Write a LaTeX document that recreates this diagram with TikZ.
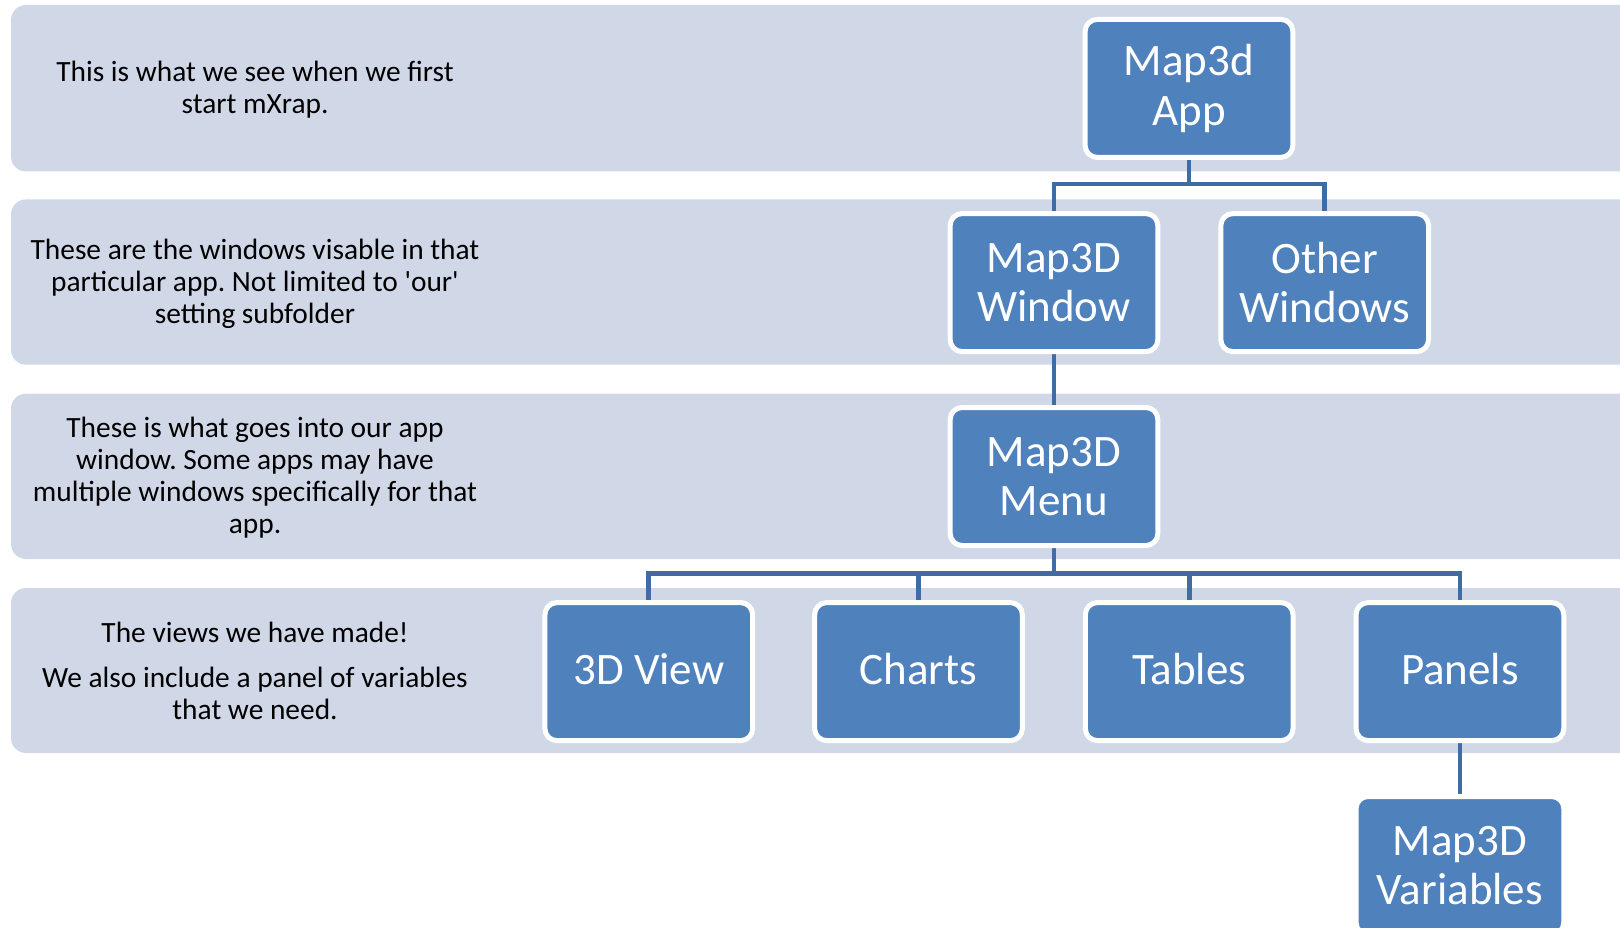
\documentclass[tikz,border=0pt]{standalone}
\usepackage{fontspec}
\setmainfont{Carlito}
\usetikzlibrary{calc}
\definecolor{bandcol}{RGB}{208,216,232}
\definecolor{boxcol}{RGB}{79,129,189}
\definecolor{conncol}{RGB}{64,108,164}
\pgfdeclarelayer{bandlayer}
\pgfdeclarelayer{linelayer}
\pgfsetlayers{bandlayer,linelayer,main}
\tikzset{
  band/.style={fill=bandcol, draw=none, rounded corners=15pt},
  orgbox/.style={rectangle, rounded corners=12pt, fill=boxcol, draw=white, line width=5pt,
    minimum width=207.7pt, minimum height=138pt, inner sep=0pt, align=center, text=white,
    font=\fontsize{45pt}{49.4pt}\selectfont},
  onebox/.style={orgbox, text depth=6pt},
  note/.style={align=center, text=black, inner sep=0pt, font=\fontsize{29.4pt}{32pt}\selectfont},
  conn/.style={draw=conncol, line width=4.7pt}
}
\frenchspacing
\begin{document}
\begin{tikzpicture}[x=1pt,y=-1pt]
\useasboundingbox (0,0) rectangle (1620,928);
% boxes
\node[orgbox] (app) at (1189,88.4) {Map3d\\App};
\node[orgbox] (win) at (1054,282.6) {Map3D\\Window};
\node[orgbox] (other) at (1324.7,282.6) {Other\\Windows};
\node[orgbox] (menu) at (1054,476.5) {Map3D\\Menu};
\node[onebox] (view) at (648.8,671.6) {3D View};
\node[onebox] (charts) at (918.5,671.6) {Charts};
\node[onebox] (tables) at (1189.2,671.6) {Tables};
\node[onebox] (panels) at (1459.9,671.6) {Panels};
\node[orgbox] (vars) at (1459.9,865.5) {Map3D\\Variables};
% notes
\node[note] (n1) at (255,90) {This is what we see when we first\\start mXrap.};
\node[note] (n2) at (255,284) {These are the windows visable in that\\particular app. Not limited to \textquotesingle our\textquotesingle\\setting subfolder};
\node[note] (n3) at (255,478) {These is what goes into our app\\window. Some apps may have\\multiple windows specifically for that\\app.};
\node[note] (n4) at (255,670.5) {The views we have made!\\[13pt]We also include a panel of variables\\that we need.};
% buses
\coordinate (bus1) at (0,184);
\coordinate (bus2) at (0,573.4);
\begin{pgfonlayer}{bandlayer}
\fill[band] (11,5) rectangle (1650,171.5);
\fill[band] (11,199.4) rectangle (1650,364.7);
\fill[band] (11,393.6) rectangle (1650,559);
\fill[band] (11,588) rectangle (1650,753);
\end{pgfonlayer}
\begin{pgfonlayer}{linelayer}
\draw[conn] (app.south) -- (app.south |- bus1);
\draw[conn] (win.north) -- (win.north |- bus1) -- (other.north |- bus1) -- (other.north);
\draw[conn] (win.south) -- (menu.north);
\draw[conn] (menu.south) -- (menu.south |- bus2);
\draw[conn] (view.north) -- (view.north |- bus2) -- (panels.north |- bus2) -- (panels.north);
\draw[conn] (charts.north) -- (charts.north |- bus2);
\draw[conn] (tables.north) -- (tables.north |- bus2);
\draw[conn] (panels.south) -- (vars.north);
\end{pgfonlayer}
\end{tikzpicture}
\end{document}
